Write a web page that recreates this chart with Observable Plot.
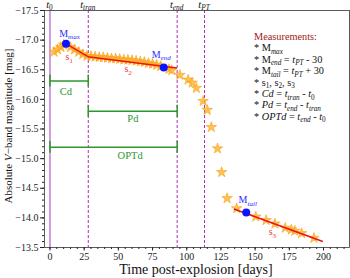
<!DOCTYPE html>
<html><head><meta charset="utf-8">
<script src="https://cdn.jsdelivr.net/npm/d3@7"></script>
<script src="https://cdn.jsdelivr.net/npm/@observablehq/plot@0.6"></script>
<style>body{margin:0;background:#fff} svg{font-family:"Liberation Serif",serif}</style>
</head><body><div id="chart"></div>
<script>
// ---- data ----
const starDays = [3, 5.5, 8, 10, 15, 18, 21, 24, 27, 30, 33, 36, 39, 42, 45, 48, 51, 54, 57, 60, 63, 66, 69, 72, 75, 78, 81, 87, 89, 95, 101, 104, 107, 112, 115, 118, 122.5, 125.5, 129.5, 136.5, 150.5, 158, 164.5, 172, 176.5, 179, 184, 193];
const starMags = [-16.80, -16.84, -16.88, -16.92, -16.88, -16.84, -16.80, -16.76, -16.73, -16.73, -16.72, -16.71, -16.71, -16.70, -16.69, -16.69, -16.68, -16.67, -16.67, -16.66, -16.65, -16.64, -16.63, -16.61, -16.60, -16.58, -16.56, -16.51, -16.49, -16.41, -16.33, -16.28, -16.19, -15.97, -15.82, -15.53, -15.17, -14.77, -14.33, -14.16, -14.02, -13.96, -13.90, -13.83, -13.80, -13.78, -13.74, -13.66];
const eventNames = ["0", "tran", "end", "PT"];
const eventDays = [0, 28, 93, 113];
const keyNames = ["max", "end", "tail"];
const keyDays = [11.7, 83.2, 143.5];
const keyMags = [-16.94, -16.54, -14.09];
const slopeNames = ["1", "2", "3"];
const slopeStartDays = [11.7, 27.7, 134.5];
const slopeStartMags = [-16.94, -16.72, -14.15];
const slopeEndDays = [27.7, 92.8, 199.5];
const slopeEndMags = [-16.72, -16.53, -13.60];
const spanNames = ["Cd", "Pd", "OPTd"];
const spanStart = [0, 28, 0];
const spanEnd = [28, 93, 93];
const spanMags = [-16.31, -15.80, -15.19];
const xTicks = [0, 25, 50, 75, 100, 125, 150, 175, 200];
const yTicks = [-17.5, -17.0, -16.5, -16.0, -15.5, -15.0, -14.5, -14.0, -13.5];

// ---- tables ----
const stars = starDays.map((d, i) => ({d, m: starMags[i]}));
const events = eventDays.map((d, i) => ({d, name: eventNames[i], solid: i === 0}));
const keys = keyDays.map((d, i) => ({d, m: keyMags[i], name: keyNames[i]}));
const slopes = slopeNames.map((n, i) => ({n, x1: slopeStartDays[i], y1: slopeStartMags[i], x2: slopeEndDays[i], y2: slopeEndMags[i]}));
const spans = spanNames.map((n, i) => ({n, x1: spanStart[i], x2: spanEnd[i], m: spanMags[i]}));
const caps = spans.flatMap(s => [{d: s.x1, m: s.m}, {d: s.x2, m: s.m}]);
const minorX = d3.range(0, 220, 5);
const minorY = d3.range(0, 41).map(i => -17.5 + i * 0.1);
const green = "#2f962f";

const chart = Plot.plot({
  width: 350, height: 278,
  marginLeft: 44, marginRight: 1, marginTop: 10, marginBottom: 31,
  style: {fontFamily: "Liberation Serif, serif", fontSize: "10px", background: "white", color: "#222"},
  x: {domain: [-4, 219]},
  y: {domain: [-17.5, -13.5], reverse: true},
  marks: [
    Plot.axisX({ticks: minorX, tickSize: 2, tickFormat: () => "", label: null}),
    Plot.axisX({ticks: xTicks, tickSize: 3.5, tickPadding: 2, tickFormat: d => String(d), label: null, fontSize: 10}),
    Plot.axisY({ticks: minorY, tickSize: 2, tickFormat: () => "", label: null}),
    Plot.axisY({ticks: yTicks, tickSize: 4, tickPadding: 2, tickFormat: d3.format(".1f"), label: null, fontSize: 10}),
    Plot.ruleX(events.filter(e => e.solid), {x: "d", stroke: "#b05ccf", strokeWidth: 1.2}),
    Plot.ruleX(events.filter(e => !e.solid), {x: "d", stroke: "#b02cb0", strokeWidth: 1, strokeDasharray: "3,2"}),
    Plot.link(spans, {x1: "x1", x2: "x2", y1: "m", y2: "m", stroke: green, strokeWidth: 1.5}),
    Plot.ruleX(caps, {x: "d", y1: d => d.m - 0.1, y2: d => d.m + 0.1, stroke: green, strokeWidth: 1.5}),
    Plot.dot(stars, {x: "d", y: "m", symbol: "star", r: 3.3, fill: "#ffb226", fillOpacity: 0.8, stroke: "#f7a21b", strokeWidth: 0.6}),
    Plot.link(slopes, {x1: "x1", y1: "y1", x2: "x2", y2: "y2", stroke: "#f01010", strokeWidth: 1.5}),
    Plot.dot(keys, {x: "d", y: "m", r: 4, fill: "#0a14ff"}),
    Plot.frame({stroke: "#333", strokeWidth: 0.8})
  ]
});
document.getElementById("chart").append(chart);

// ---- rich text annotations placed through the chart's scales ----
const sx = chart.scale("x"), sy = chart.scale("y");
const svg = d3.select(chart);
const g = svg.append("g").attr("font-family", "Liberation Serif, serif");
function rich(x, y, parts, opts = {}) {
  const t = g.append("text").attr("x", x).attr("y", y)
    .attr("text-anchor", opts.anchor || "start")
    .attr("font-size", opts.size || 10)
    .attr("fill", opts.color || "#111");
  if (opts.rotate) t.attr("transform", `rotate(-90 ${x} ${y})`);
  let shift = 0;
  for (const p of parts) {
    const s = t.append("tspan").text(p.t);
    const want = p.sub ? 2.5 : 0;
    if (want !== shift) { s.attr("dy", want - shift); shift = want; }
    if (p.sub) s.attr("font-size", "0.7em");
    if (p.it) s.attr("font-style", "italic");
  }
  return t;
}
const S = (t, it = true) => ({t, sub: true, it});
const N = t => ({t});
const I = t => ({t, it: true});

// top event labels
events.forEach(e => rich(sx.apply(e.d), 7.5, [I("t"), S(e.name, e.name !== "0")], {anchor: "middle", size: 10.5}));

// key point labels
const keyOff = [[4, -6.5], [-2, -9], [2, -9]];
keys.forEach((k, i) => rich(sx.apply(k.d) + keyOff[i][0], sy.apply(k.m) + keyOff[i][1], [N("M"), S(k.name)], {anchor: "middle", color: "#2b2bff", size: 10}));

// slope labels
const slopeLabelDays = [14.5, 57.5, 163];
const slopeLabelMags = [-16.70, -16.50, -13.75];
slopes.forEach((s, i) => rich(sx.apply(slopeLabelDays[i]), sy.apply(slopeLabelMags[i]) + 3, [N("s"), S(s.n, false)], {anchor: "middle", color: "#f03a3a", size: 10}));

// span labels
const spanLabelDays = [12, 61, 59];
const spanLabelOff = [14, 11, 12.5];
spans.forEach((s, i) => rich(sx.apply(spanLabelDays[i]), sy.apply(s.m) + spanLabelOff[i], [N(s.n)], {anchor: "middle", color: green, size: 10.5}));

// measurements box
const mx = 254, my0 = 40, dl = 11.4;
const lines = [
  [N("Measurements:")],
  [N("* M"), S("max")],
  [N("* M"), S("end"), N(" = "), I("t"), S("PT"), N(" - 30")],
  [N("* M"), S("tail"), N(" = "), I("t"), S("PT"), N(" + 30")],
  [N("* s"), S("1", false), N(", s"), S("2", false), N(", s"), S("3", false)],
  [N("* "), I("Cd"), N(" = "), I("t"), S("tran"), N(" - "), I("t"), S("0", false)],
  [N("* "), I("Pd"), N(" = "), I("t"), S("end"), N(" - "), I("t"), S("tran")],
  [N("* "), I("OPTd"), N(" = "), I("t"), S("end"), N(" - "), I("t"), S("0", false)]
];
lines.forEach((l, i) => rich(mx, my0 + i * dl, l, {size: 10.3, color: i === 0 ? "#a11818" : "#111"}));

// axis titles
rich(196, 274, [N("Time post-explosion [days]")], {anchor: "middle", size: 14});
rich(12, 126, [N("Absolute "), I("V"), N("\u2212band magnitude [mag]")], {anchor: "middle", size: 11, rotate: true});
</script>
</body></html>
